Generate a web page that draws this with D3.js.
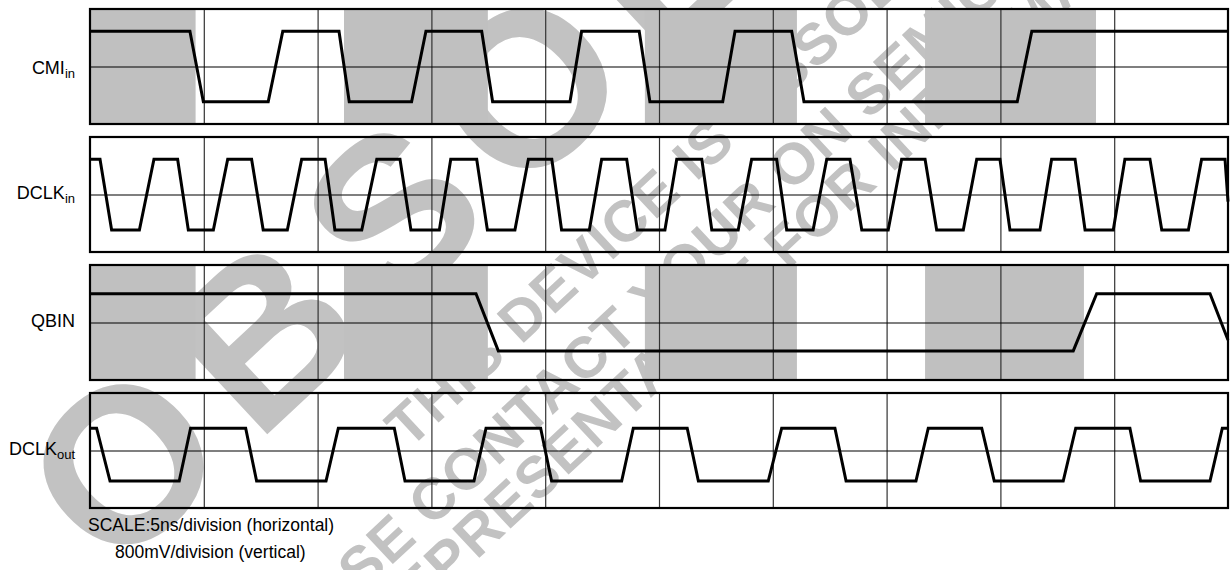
<!DOCTYPE html>
<html>
<head>
<meta charset="utf-8">
<script src="https://cdn.jsdelivr.net/npm/d3@7"></script>
<style>
  body { margin: 0; background: #fff; }
  svg { display: block; font-family: "Liberation Sans", Arial, sans-serif; }
</style>
</head>
<body>
<div id="grafico"></div>
<script>
// tempo em ns (5 ns/divisao), tensao em mV (800 mV/divisao)
const gridTimes = [5, 10, 15, 20, 25, 30, 35, 40, 45];

const cmiIn = [
  [0, 490], [4.39, 490], [4.98, -490], [7.83, -490], [8.47, 490], [10.94, 490],
  [11.39, -490], [14.13, -490], [14.76, 490], [17.21, 490], [17.69, -490],
  [21.09, -490], [21.60, 490], [24.13, 490], [24.60, -490], [27.80, -490],
  [28.34, 490], [30.83, 490], [31.37, -490], [40.74, -490], [41.38, 490], [50, 490]
];

const dclkIn = [
  [0, 490], [0.44, 490], [0.95, -495], [2.17, -495], [2.81, 490], [3.85, 490],
  [4.32, -495], [5.42, -495], [6.05, 490], [7.10, 490], [7.61, -495], [8.67, -495],
  [9.30, 490], [10.33, 490], [10.76, -495], [11.94, -495], [12.60, 490], [13.62, 490],
  [14.10, -495], [15.35, -495], [15.85, 490], [16.99, 490], [17.46, -495], [18.67, -495],
  [19.26, 490], [20.29, 490], [20.72, -495], [21.94, -495], [22.48, 490], [23.58, 490],
  [24.05, -495], [25.26, -495], [25.78, 490], [26.88, 490], [27.32, -495], [28.48, -495],
  [29.07, 490], [30.17, 490], [30.61, -495], [31.77, -495], [32.37, 490], [33.39, 490],
  [33.91, -495], [35.07, -495], [35.66, 490], [36.69, 490], [37.20, -495], [38.37, -495],
  [38.96, 490], [39.98, 490], [40.42, -495], [41.74, -495], [42.25, 490], [43.28, 490],
  [43.72, -495], [44.96, -495], [45.47, 490], [46.57, 490], [47.09, -495], [48.26, -495],
  [48.84, 490], [49.87, 490], [50, -100]
];

const qbin = [
  [0, 400], [16.96, 400], [17.94, -395], [43.20, -395], [44.23, 400], [49.21, 400], [50, -243]
];

const dclkOut = [
  [0, 310], [0.29, 310], [0.88, -425], [3.92, -425], [4.42, 310], [6.84, 310],
  [7.32, -425], [10.37, -425], [10.91, 310], [13.37, 310], [13.84, -425], [16.87, -425],
  [17.40, 310], [19.80, 310], [20.28, -425], [23.36, -425], [23.87, 310], [26.24, 310],
  [26.73, -425], [29.80, -425], [30.39, 310], [32.73, 310], [33.22, -425], [36.29, -425],
  [36.83, 310], [39.18, 310], [39.73, -425], [42.76, -425], [43.31, 310], [45.69, 310],
  [46.16, -425], [49.21, -425], [49.75, 310], [50, 310]
];

// faixas cinzas (inicio, fim em ns)
const shadeCmi = [[0, 4.64], [11.16, 17.48], [24.38, 31.06], [36.69, 44.20]];
const shadeQbin = [[0, 4.64], [11.16, 17.48], [24.38, 31.06], [36.69, 43.67]];

const labels = ["CMI", "DCLK", "QBIN", "DCLK"];
const subLabels = ["in", "in", "", "out"];

const scaleLines = ["SCALE:5ns/division (horizontal)", "800mV/division (vertical)"];

const watermarkLines = [
  "OBSOLETE",
  "THIS DEVICE IS OBSOLETE",
  "PLEASE CONTACT YOUR ON SEMICONDUCTOR",
  "REPRESENTATIVE FOR INFORMATION"
];

const sinais = [cmiIn, dclkIn, qbin, dclkOut];
const faixas = [shadeCmi, [], shadeQbin, []];

// Configuracoes
const width = 1231;
const height = 570;
const left = 90, right = 1228;
const panelTops = [9, 137, 265, 393];
const panelH = 115;
const labelBase = [74, 199, 327, 455];

const svg = d3.select("#grafico").append("svg")
  .attr("width", width)
  .attr("height", height);

const x = d3.scaleLinear().domain([0, 50]).range([left, right]);

// marca d'agua
const wm = svg.append("g").attr("fill", "#c2c2c2").attr("font-weight", "bold");
const wmPos = [[113, 578, 220, 25], [409, 450, 58, 1], [245, 702, 58, 1], [387, 644, 58, 1]];
watermarkLines.forEach((t, i) => {
  wm.append("text")
    .attr("transform", `translate(${wmPos[i][0]},${wmPos[i][1]}) rotate(-43)`)
    .attr("font-size", wmPos[i][2])
    .attr("letter-spacing", wmPos[i][3])
    .text(t);
});

sinais.forEach((dados, i) => {
  const top = panelTops[i];
  const y = d3.scaleLinear().domain([-800, 800]).range([top + panelH, top]);
  const g = svg.append("g");

  // faixas cinzas
  g.selectAll("rect.faixa")
    .data(faixas[i])
    .enter().append("rect")
    .attr("class", "faixa")
    .attr("x", d => x(d[0]))
    .attr("y", top)
    .attr("width", d => x(d[1]) - x(d[0]))
    .attr("height", panelH)
    .attr("fill", "#c0c0c0");

  // grade vertical
  const gx = g.append("g")
    .attr("transform", `translate(0,${top + panelH})`)
    .call(d3.axisBottom(x).tickValues(gridTimes).tickSize(-panelH).tickFormat(""));
  gx.select(".domain").remove();
  gx.selectAll("line").attr("stroke", "#333").attr("stroke-width", 1.2);

  // linha central
  const gy = g.append("g")
    .attr("transform", `translate(${left},0)`)
    .call(d3.axisLeft(y).tickValues([0]).tickSize(-(right - left)).tickFormat(""));
  gy.select(".domain").remove();
  gy.selectAll("line").attr("stroke", "#000").attr("stroke-width", 1.2);

  // borda
  g.append("rect")
    .attr("x", left).attr("y", top)
    .attr("width", right - left).attr("height", panelH)
    .attr("fill", "none").attr("stroke", "#000").attr("stroke-width", 2.2);

  // forma de onda
  g.append("path")
    .datum(dados)
    .attr("fill", "none")
    .attr("stroke", "#000")
    .attr("stroke-width", 3)
    .attr("stroke-linejoin", "miter")
    .attr("d", d3.line().x(d => x(d[0])).y(d => y(d[1])));

  // rotulo
  const txt = svg.append("text")
    .attr("x", 75).attr("y", labelBase[i])
    .attr("text-anchor", "end")
    .attr("font-size", 18)
    .attr("fill", "#000");
  txt.append("tspan").text(labels[i]);
  if (subLabels[i]) {
    txt.append("tspan").attr("font-size", 13).attr("dy", 4).text(subLabels[i]);
  }
});

svg.append("text").attr("x", 88).attr("y", 531).attr("font-size", 17.5).text(scaleLines[0]);
svg.append("text").attr("x", 115).attr("y", 558).attr("font-size", 17.5).text(scaleLines[1]);
</script>
</body>
</html>
